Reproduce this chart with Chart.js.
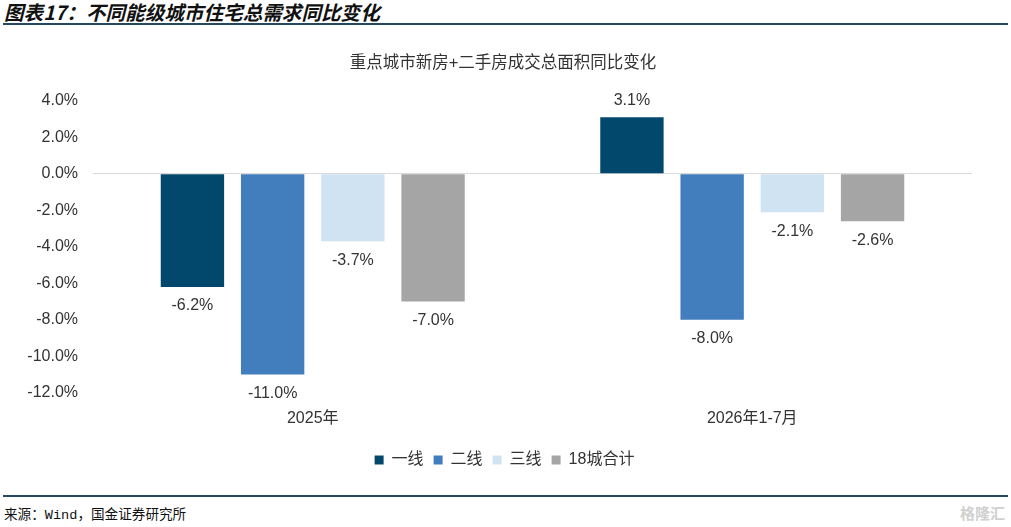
<!DOCTYPE html>
<html>
<head>
<meta charset="utf-8">
<script src="https://cdn.jsdelivr.net/npm/chart.js@4"></script>
<style>
  html, body { margin: 0; padding: 0; background: #fff; }
  body { width: 1011px; height: 527px; position: relative; overflow: hidden; }
  .head {
    position: absolute; left: 4px; top: -3px;
    font: italic bold 19.6px 'Noto Sans CJK SC', sans-serif; color: #111;
  }
  .line { position: absolute; left: 3px; right: 3px; height: 2px; background: #244a63; }
  .foot {
    position: absolute; left: 4px; top: 503px;
    font: 13.6px 'Liberation Mono', 'Noto Sans CJK SC', monospace; color: #111;
  }
  .mark {
    position: absolute; right: 6px; top: 502px;
    font: bold 15px 'Noto Sans CJK SC', sans-serif; color: #d0d0d0;
  }
  #wrap { position: absolute; left: 0; top: 0; width: 1011px; height: 527px; }
</style>
</head>
<body>
<div class="head">图表17：不同能级城市住宅总需求同比变化</div>
<div class="line" style="top:23px"></div>
<div class="line" style="top:495px"></div>
<div class="foot">来源：Wind，国金证券研究所</div>
<div class="mark">格隆汇</div>
<div id="wrap"><canvas id="chart" width="1011" height="527"></canvas></div>
<script>
const categories = ['2025年', '2026年1-7月'];
const seriesNames = ['一线', '二线', '三线', '18城合计'];
const tier1 = [-6.2, 3.1];
const tier2 = [-11.0, -8.0];
const tier3 = [-3.7, -2.1];
const total18 = [-7.0, -2.6];
const yTicks = [4, 2, 0, -2, -4, -6, -8, -10, -12];

const colours = ['#02486d', '#427ebd', '#d0e3f3', '#a5a5a5'];
const fontFamily = "'Liberation Sans', 'Noto Sans CJK SC', sans-serif";

// value labels above / below each bar
const barLabels = {
    id: 'barLabels',
    afterDatasetsDraw(chart) {
        const ctx = chart.ctx;
        ctx.save();
        ctx.font = '16px ' + fontFamily;
        ctx.fillStyle = '#333';
        ctx.textAlign = 'center';
        ctx.textBaseline = 'middle';
        chart.data.datasets.forEach((ds, i) => {
            chart.getDatasetMeta(i).data.forEach((bar, j) => {
                const v = ds.data[j];
                const y = v < 0 ? bar.y + 19 : bar.y - 17;
                ctx.fillText(v.toFixed(1) + '%', bar.x, y);
            });
        });
        ctx.restore();
    }
};

// title and legend sit a little right of centre in the original
const blockShift = {
    id: 'blockShift',
    afterLayout(chart) {
        chart.legend.left += 22;
        chart.titleBlock.left += 19;
    }
};

const seriesData = [tier1, tier2, tier3, total18];

new Chart(document.getElementById('chart'), {
    type: 'bar',
    data: {
        labels: categories,
        datasets: seriesNames.map((name, i) => ({
            label: name,
            data: seriesData[i],
            backgroundColor: colours[i],
            categoryPercentage: 0.73,
            barPercentage: 0.79
        }))
    },
    options: {
        responsive: false,
        animation: false,
        layout: { padding: { top: 54, left: 15, right: 39, bottom: 49 } },
        plugins: {
            title: {
                display: true,
                text: '重点城市新房+二手房成交总面积同比变化',
                color: '#333',
                font: { family: fontFamily, size: 16.5, weight: 'normal' },
                padding: { top: 0, bottom: 27 }
            },
            legend: {
                position: 'bottom',
                labels: {
                    boxWidth: 9, boxHeight: 9, padding: 10,
                    color: '#333',
                    font: { family: fontFamily, size: 16 }
                }
            },
            tooltip: { enabled: false }
        },
        scales: {
            x: {
                grid: { display: false, tickLength: 2 },
                border: { display: false },
                ticks: { color: '#333', font: { family: fontFamily, size: 16 }, padding: 14 }
            },
            y: {
                min: -12, max: 4,
                afterBuildTicks: (axis) => { axis.ticks = yTicks.map(v => ({ value: v })); },
                afterFit: (axis) => { axis.width = 78; },
                grid: {
                    drawTicks: false,
                    color: (c) => c.tick && c.tick.value === 0 ? '#d9d9d9' : 'rgba(0,0,0,0)'
                },
                border: { display: false },
                ticks: {
                    color: '#333',
                    padding: 15,
                    font: { family: fontFamily, size: 16 },
                    callback: (v) => v.toFixed(1) + '%'
                }
            }
        }
    },
    plugins: [barLabels, blockShift]
});
</script>
</body>
</html>
